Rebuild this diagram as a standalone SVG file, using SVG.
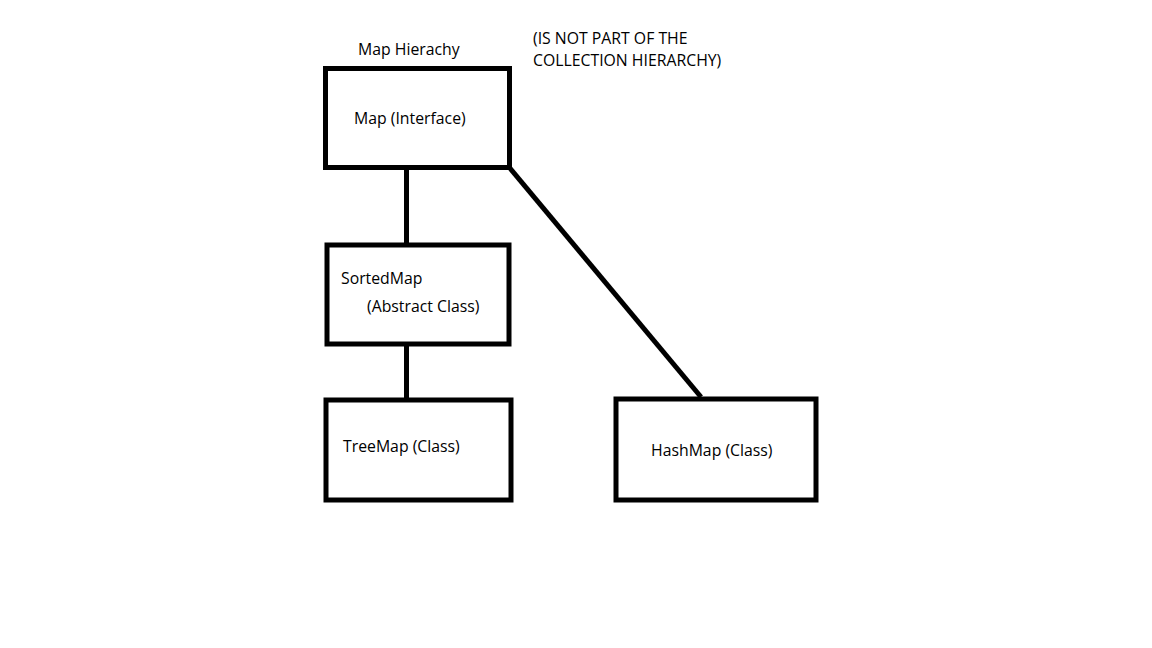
<svg xmlns="http://www.w3.org/2000/svg" width="1152" height="648" viewBox="0 0 1152 648">
<style>
.box{fill:#fff;stroke:#000;stroke-width:5}
.edge{stroke:#000;stroke-width:5;fill:none}
text{font-family:"Open Sans","Noto Sans",sans-serif;font-size:15.8px;fill:#000}
</style>
<rect width="1152" height="648" fill="#fff"/>
<text x="358" y="55">Map Hierachy</text>
<text x="533" y="44">(IS NOT PART OF THE</text>
<text x="533" y="66">COLLECTION HIERARCHY)</text>
<g id="connectors">
<line class="edge" x1="406.5" y1="169" x2="406.5" y2="243"/>
<line class="edge" x1="406.5" y1="345" x2="406.5" y2="398"/>
<line class="edge" x1="509" y1="167" x2="701" y2="397"/>
</g>
<g id="map">
<rect class="box" x="325.5" y="68.5" width="184" height="99"/>
<text x="354" y="124">Map (Interface)</text>
</g>
<g id="sortedmap">
<rect class="box" x="327" y="245" width="182" height="99"/>
<text x="341" y="284">SortedMap</text>
<text x="367" y="312">(Abstract Class)</text>
</g>
<g id="treemap">
<rect class="box" x="326" y="400" width="185" height="100"/>
<text x="343" y="452">TreeMap (Class)</text>
</g>
<g id="hashmap">
<rect class="box" x="616" y="399" width="200" height="101"/>
<text x="651" y="456">HashMap (Class)</text>
</g>
</svg>
